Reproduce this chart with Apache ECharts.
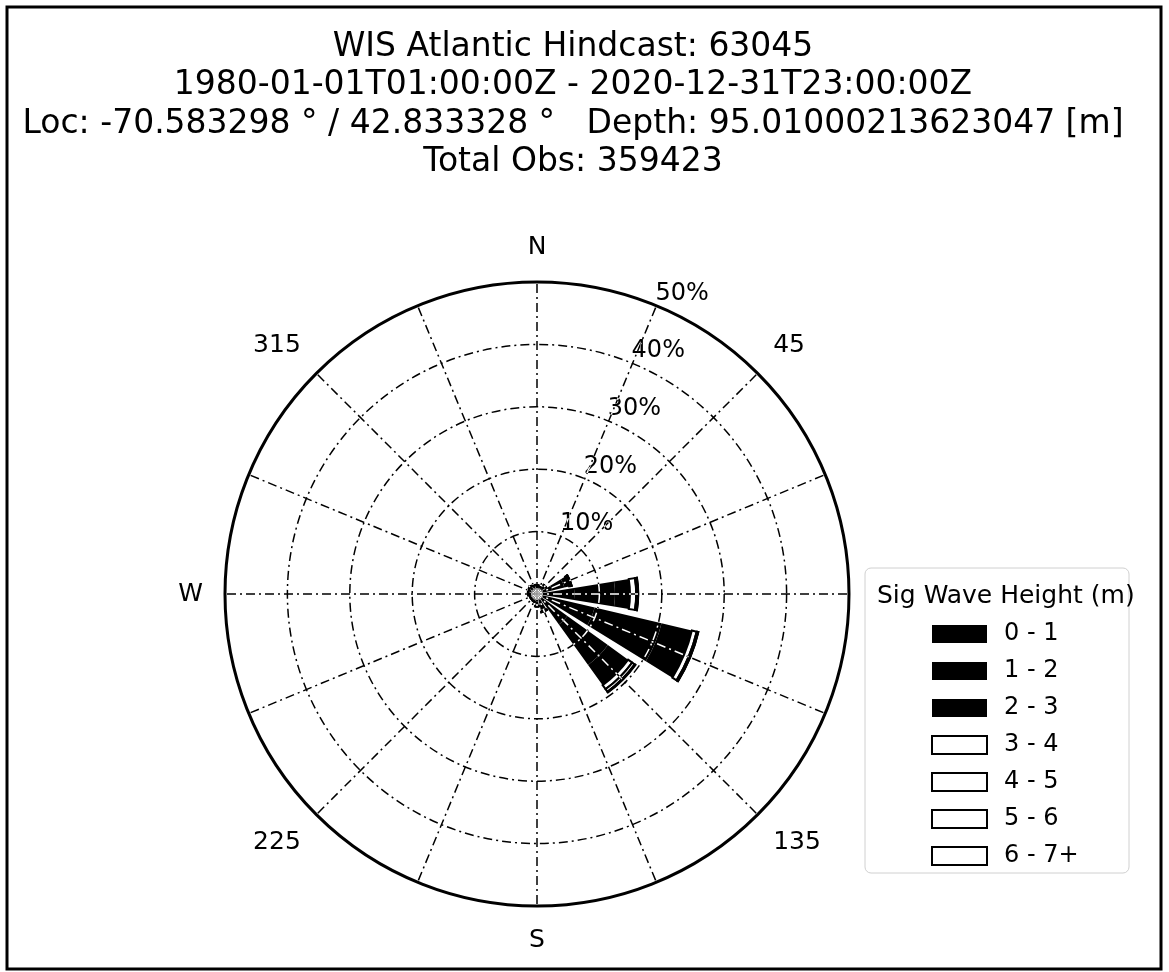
<!DOCTYPE html>
<html><head><meta charset="utf-8">
<script src="https://cdn.jsdelivr.net/npm/echarts@6/dist/echarts.min.js"></script>
<style>
html,body{margin:0;padding:0;background:#fff;}
#wrap{position:relative;width:1169px;height:972px;background:#fff;}
#main,#grid{position:absolute;left:0;top:0;width:1169px;height:972px;}
#grid{mix-blend-mode:difference;pointer-events:none;}
</style></head><body>
<div id="wrap"><div id="main"></div><div id="grid"></div></div>
<script>
// ---- data ----
const titleLines = [
  'WIS Atlantic Hindcast: 63045',
  '1980-01-01T01:00:00Z - 2020-12-31T23:00:00Z',
  'Loc: -70.583298 ° / 42.833328 °   Depth: 95.01000213623047 [m]',
  'Total Obs: 359423'
];
const directions = ['N','NNE','NE','ENE','E','ESE','SE','SSE','S','SSW','SW','WSW','W','WNW','NW','NNW'];
const legendTitle = 'Sig Wave Height (m)';
const classNames = ['0 - 1','1 - 2','2 - 3','3 - 4','4 - 5','5 - 6','6 - 7+'];
// percent of observations per direction bin (N, NNE, ... NNW)
const h0_1 = [0.9, 0.8, 1.1, 2.5, 6.0, 9.5, 6.0, 1.6, 1.2, 0.9, 0.8, 0.8, 0.8, 0.8, 0.8, 0.8];
const h1_2 = [0.4, 0.3, 0.5, 2.0, 6.5, 11.0, 8.0, 1.0, 0.6, 0.3, 0.3, 0.3, 0.5, 0.5, 0.6, 0.5];
const h2_3 = [0.1, 0.1, 0.15, 0.8, 2.4, 5.0, 4.0, 0.3, 0.15, 0.08, 0.08, 0.08, 0.1, 0.15, 0.15, 0.15];
const h3_4 = [0.02, 0.02, 0.04, 0.3, 1.0, 0.8, 0.8, 0.08, 0.04, 0.02, 0.02, 0.02, 0.02, 0.04, 0.04, 0.04];
const h4_5 = [0.01, 0, 0.01, 0.08, 0.25, 0.2, 0.5, 0.02, 0.01, 0, 0, 0, 0.01, 0.01, 0.01, 0.01];
const h5_6 = [0, 0, 0, 0.02, 0.06, 0.05, 0.1, 0.01, 0, 0, 0, 0, 0, 0, 0, 0];
const h6_7 = [0, 0, 0, 0.01, 0.02, 0.02, 0.05, 0, 0, 0, 0, 0, 0, 0, 0, 0];
const classData = [h0_1, h1_2, h2_3, h3_4, h4_5, h5_6, h6_7];
const compassLabels = {0:'N', 45:'45', 135:'135', 180:'S', 225:'225', 270:'W', 315:'315'};
const radiusMax = 50, radiusStep = 10;

// ---- style ----
const FONT = 'DejaVu Sans';
const CX = 537, CY = 594, R = 312;
const classFill = ['#000','#000','#000','#fff','#fff','#fff','#fff'];
const classBorder = [0,0,0,2,2,2,2];
const dashDot = [9,4,2,4];

const main = echarts.init(document.getElementById('main'), null, {renderer:'canvas'});
const series = classNames.map((name, i) => ({
  name, type:'bar', coordinateSystem:'polar', polarIndex:0, stack:'rose',
  barCategoryGap:'18%',
  data: classData[i],
  itemStyle:{color:classFill[i], borderColor:'#000', borderWidth:classBorder[i]},
  emphasis:{disabled:true}, silent:true
}));

main.setOption({
  animation:false,
  backgroundColor:'#fff',
  title:{
    text: titleLines.join('\n'), left:568, top:23, textAlign:'center',
    textStyle:{fontFamily:FONT, fontSize:33, fontWeight:'normal', color:'#000', lineHeight:38.5}
  },
  polar:[
    {center:[CX,CY], radius:R},
    {center:[CX,CY], radius:R}
  ],
  angleAxis:[
    {polarIndex:0, type:'category', data:directions, startAngle:90+11.25, clockwise:true, boundaryGap:true,
     axisLine:{show:false}, axisTick:{show:false}, axisLabel:{show:false}, splitLine:{show:false}},
    {polarIndex:1, type:'value', min:22.5, max:382.5, interval:22.5, startAngle:67.5, clockwise:true,
     axisLine:{show:true, lineStyle:{color:'#000', width:3}},
     axisTick:{show:false}, splitLine:{show:false},
     axisLabel:{show:true, margin:22, fontFamily:FONT, fontSize:25, color:'#000',
       formatter: v => { const k = Math.round(v) % 360; return compassLabels[k] !== undefined ? compassLabels[k] : ''; }}}
  ],
  radiusAxis:[
    {polarIndex:0, type:'value', min:0, max:radiusMax, axisLine:{show:false}, axisTick:{show:false},
     axisLabel:{show:false}, splitLine:{show:false}},
    {polarIndex:1, type:'value', min:0, max:radiusMax, interval:radiusStep, axisLine:{show:false}, axisTick:{show:false},
     splitLine:{show:false},
     axisLabel:{show:true, margin:1, align:'left', verticalAlign:'bottom', fontFamily:FONT, fontSize:24, color:'#000',
       formatter: v => v ? v + '%' : ''}}
  ],
  legend:{
    orient:'vertical', left:926, top:617, itemWidth:55, itemHeight:18, itemGap:13,
    icon:'rect', selectedMode:false,
    data: classNames,
    textStyle:{fontFamily:FONT, fontSize:24, color:'#000', padding:[0,0,0,12]}
  },
  graphic:[
    {type:'rect', z:-10, shape:{x:865, y:568, width:264, height:305, r:6},
     style:{fill:'#fff', stroke:'#d0d0d0', lineWidth:1}},
    {type:'text', left:877, top:584, style:{text:legendTitle, fontFamily:FONT, fontSize:25, fill:'#000'}},
    {type:'rect', shape:{x:7, y:7, width:1154, height:962}, style:{fill:'none', stroke:'#000', lineWidth:3}}
  ],
  series
});

// grid lines, drawn white with 'difference' blending: black over paper, white over the bars
const grid = echarts.init(document.getElementById('grid'), null, {renderer:'canvas'});
grid.setOption({
  animation:false,
  backgroundColor:'transparent',
  polar:[
    {center:[CX,CY], radius:R-2},
    {center:[CX,CY], radius:R*(radiusMax-radiusStep)/radiusMax}
  ],
  angleAxis:[
    {polarIndex:0, type:'value', min:0, max:360, interval:22.5, startAngle:90, clockwise:true,
     axisLine:{show:false}, axisTick:{show:false}, axisLabel:{show:false},
     splitLine:{show:true, lineStyle:{color:'#fff', width:1.5, type:dashDot}}},
    {polarIndex:1, type:'value', min:0, max:360, startAngle:90,
     axisLine:{show:false}, axisTick:{show:false}, axisLabel:{show:false}, splitLine:{show:false}}
  ],
  radiusAxis:[
    {polarIndex:0, type:'value', min:0, max:radiusMax, axisLine:{show:false}, axisTick:{show:false},
     axisLabel:{show:false}, splitLine:{show:false}},
    {polarIndex:1, type:'value', min:0, max:radiusMax-radiusStep, interval:radiusStep,
     axisLine:{show:false}, axisTick:{show:false}, axisLabel:{show:false},
     splitLine:{show:true, lineStyle:{color:'#fff', width:1.5, type:dashDot}}}
  ],
  series:[]
});
</script>
</body></html>
